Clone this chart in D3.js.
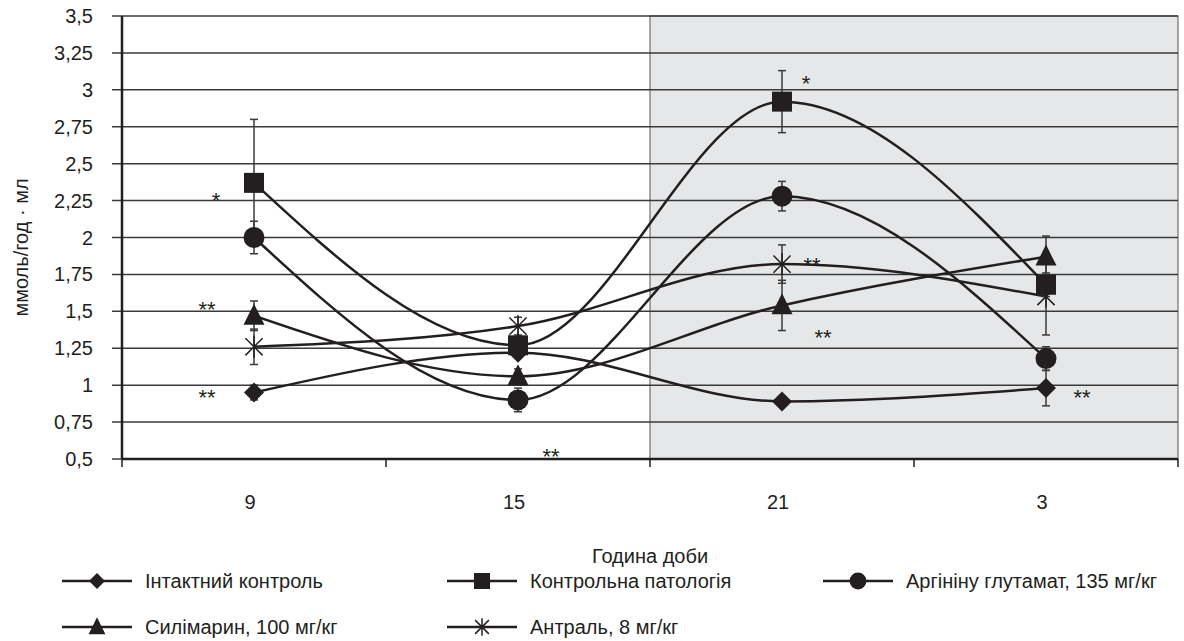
<!DOCTYPE html>
<html>
<head>
<meta charset="utf-8">
<script src="https://cdn.jsdelivr.net/npm/d3@7"></script>
<style>
  html, body { margin: 0; padding: 0; background: #fff; }
  svg { display: block; font-family: "Liberation Sans", Arial, sans-serif; }
</style>
</head>
<body>
<div id="chart"></div>
<script>
// data
const hours = ['9', '15', '21', '3'];
const yTicks = [0.5, 0.75, 1, 1.25, 1.5, 1.75, 2, 2.25, 2.5, 2.75, 3, 3.25, 3.5];
const seriesNames = [
  'Інтактний контроль',
  'Контрольна патологія',
  'Аргініну глутамат, 135 мг/кг',
  'Силімарин, 100 мг/кг',
  'Антраль, 8 мг/кг'
];
const intactValues   = [0.95, 1.22, 0.89, 0.98];
const intactErr      = [0.05, 0.03, 0.03, 0.12];
const pathologyValues = [2.37, 1.27, 2.92, 1.68];
const pathologyErr    = [0.43, 0.05, 0.21, 0.08];
const arginineValues = [2.0, 0.9, 2.28, 1.18];
const arginineErr    = [0.11, 0.08, 0.1, 0.08];
const silymarinValues = [1.47, 1.06, 1.54, 1.87];
const silymarinErr    = [0.1, 0.05, 0.17, 0.14];
const antralValues   = [1.26, 1.4, 1.82, 1.6];
const antralErr      = [0.12, 0.06, 0.13, 0.26];
// significance marks: [hour, value, text]
const marks = [
  ['9', 2.28, '*'], ['9', 1.54, '**'], ['9', 0.95, '**'],
  ['15', 0.55, '**'],
  ['21', 3.07, '*'], ['21', 1.84, '**'], ['21', 1.35, '**'],
  ['3', 0.95, '**']
];
const markDx = [-38, -47, -47, 33, 24, 30, 41, 36];

const W = 1184, H = 641;
const ink = '#231f20';
const fs = '20px';
const plotL = 122, plotR = 1178, plotT = 16, plotB = 459;

const svg = d3.select('#chart').append('svg')
  .attr('width', W).attr('height', H)
  .attr('viewBox', `0 0 ${W} ${H}`);

const x = d3.scaleBand().domain(hours).range([plotL, plotR]).padding(0);
const y = d3.scaleLinear().domain([0.5, 3.5]).range([plotB, plotT]);

// night shading (21 and 3)
svg.append('rect')
  .attr('x', x('21')).attr('y', y(3.5))
  .attr('width', plotR - x('21')).attr('height', y(0.5) - y(3.5))
  .attr('fill', '#e6e7e8')
  .attr('stroke', '#555').attr('stroke-width', 1);

// gridlines + y ticks
svg.append('g').selectAll('line')
  .data(yTicks).enter().append('line')
    .attr('x1', plotL - 10).attr('x2', plotR)
    .attr('y1', d => y(d)).attr('y2', d => y(d))
    .attr('stroke', '#3a3a3a').attr('stroke-width', 1.5);

// y axis labels
svg.append('g').selectAll('text')
  .data(yTicks).enter().append('text')
    .attr('x', 93).attr('y', d => y(d) + 7)
    .attr('text-anchor', 'end')
    .attr('font-size', fs).attr('fill', ink)
    .text(d => String(d).replace('.', ','));

// axes lines
svg.append('line').attr('x1', plotL).attr('x2', plotL).attr('y1', plotT).attr('y2', plotB)
  .attr('stroke', ink).attr('stroke-width', 2.5);
svg.append('line').attr('x1', plotL).attr('x2', plotR).attr('y1', plotB).attr('y2', plotB)
  .attr('stroke', ink).attr('stroke-width', 2.5);

// x ticks at band edges
const edges = hours.map(h => x(h)).concat([plotR]);
svg.append('g').selectAll('line')
  .data(edges).enter().append('line')
    .attr('x1', d => d).attr('x2', d => d)
    .attr('y1', plotB).attr('y2', plotB + 8)
    .attr('stroke', ink).attr('stroke-width', 1.5);

svg.append('g').selectAll('text')
  .data(hours).enter().append('text')
    .attr('x', d => x(d) + x.bandwidth() / 2 - 4)
    .attr('y', 509)
    .attr('text-anchor', 'middle')
    .attr('font-size', fs).attr('fill', ink)
    .text(d => d);

// axis titles
svg.append('text')
  .attr('x', 650).attr('y', 563)
  .attr('text-anchor', 'middle')
  .attr('font-size', fs).attr('fill', ink)
  .text('Година доби');

svg.append('text')
  .attr('transform', `translate(28,${(plotT + plotB) / 2 + 10}) rotate(-90)`)
  .attr('text-anchor', 'middle')
  .attr('font-size', fs).attr('fill', ink)
  .text('ммоль/год · мл');

// custom marker shapes (size = half-width in px)
const shapes = {
  diamond: { draw(c, r) { c.moveTo(0, -r); c.lineTo(r, 0); c.lineTo(0, r); c.lineTo(-r, 0); c.closePath(); } },
  square:  { draw(c, r) { c.rect(-r, -r, 2 * r, 2 * r); } },
  circle:  { draw(c, r) { c.moveTo(r, 0); c.arc(0, 0, r, 0, 2 * Math.PI); } },
  triangle:{ draw(c, r) { c.moveTo(0, -r * 1.15); c.lineTo(r, r * 0.85); c.lineTo(-r, r * 0.85); c.closePath(); } },
  star:    { draw(c, r) {
    c.moveTo(0, -r); c.lineTo(0, r);
    const d = r * 0.78;
    c.moveTo(-d, -d); c.lineTo(d, d);
    c.moveTo(d, -d); c.lineTo(-d, d);
  } }
};

const series = [
  { name: seriesNames[0], values: intactValues,    err: intactErr,    shape: 'diamond',  r: 10 },
  { name: seriesNames[1], values: pathologyValues, err: pathologyErr, shape: 'square',   r: 10 },
  { name: seriesNames[2], values: arginineValues,  err: arginineErr,  shape: 'circle',   r: 10.5 },
  { name: seriesNames[3], values: silymarinValues, err: silymarinErr, shape: 'triangle', r: 10.5 },
  { name: seriesNames[4], values: antralValues,    err: antralErr,    shape: 'star',     r: 11 }
];

const cx = h => x(h) + x.bandwidth() / 2;

const line = d3.line()
  .x((d, i) => cx(hours[i]))
  .y(d => y(d))
  .curve(d3.curveMonotoneX);

const plot = svg.append('g');

// smoothed lines
series.forEach(s => {
  plot.append('path')
    .attr('d', line(s.values))
    .attr('fill', 'none')
    .attr('stroke', ink)
    .attr('stroke-width', 2.5);
});

// error bars
series.forEach(s => {
  const g = plot.append('g').attr('stroke', '#3a3a3a').attr('stroke-width', 1.5);
  s.values.forEach((v, i) => {
    const px = cx(hours[i]);
    const y1 = y(v + s.err[i]), y2 = y(v - s.err[i]);
    g.append('line').attr('x1', px).attr('x2', px).attr('y1', y1).attr('y2', y2);
    g.append('line').attr('x1', px - 4).attr('x2', px + 4).attr('y1', y1).attr('y2', y1);
    g.append('line').attr('x1', px - 4).attr('x2', px + 4).attr('y1', y2).attr('y2', y2);
  });
});

// markers
function marker(sel, s, r) {
  const p = d3.symbol().type(shapes[s.shape]).size(r)();
  if (s.shape === 'star') {
    sel.attr('d', p).attr('fill', 'none').attr('stroke', ink).attr('stroke-width', 1.5);
  } else {
    sel.attr('d', p).attr('fill', ink);
  }
}
series.forEach(s => {
  s.values.forEach((v, i) => {
    plot.append('path')
      .attr('transform', `translate(${cx(hours[i])},${y(v)})`)
      .call(marker, s, s.r);
  });
});

// significance marks
plot.selectAll('.sig')
  .data(marks).enter().append('text')
    .attr('class', 'sig')
    .attr('x', (d, i) => cx(d[0]) + markDx[i])
    .attr('y', d => y(d[1]) + 12)
    .attr('text-anchor', 'middle')
    .attr('font-size', '22px').attr('fill', ink)
    .text(d => d[2]);

// legend
const legendPos = [[62, 581], [447, 581], [823, 581], [62, 627], [447, 627]];
series.forEach((s, i) => {
  const [lx, ly] = legendPos[i];
  const g = svg.append('g').attr('transform', `translate(${lx},${ly})`);
  g.append('line').attr('x1', 0).attr('x2', 70).attr('y1', 0).attr('y2', 0)
    .attr('stroke', ink).attr('stroke-width', 2.5);
  g.append('path').attr('transform', 'translate(35,0)').call(marker, s, s.r * 0.8);
  g.append('text')
    .attr('x', 83).attr('y', 7)
    .attr('font-size', fs).attr('fill', ink)
    .text(s.name);
});
</script>
</body>
</html>
